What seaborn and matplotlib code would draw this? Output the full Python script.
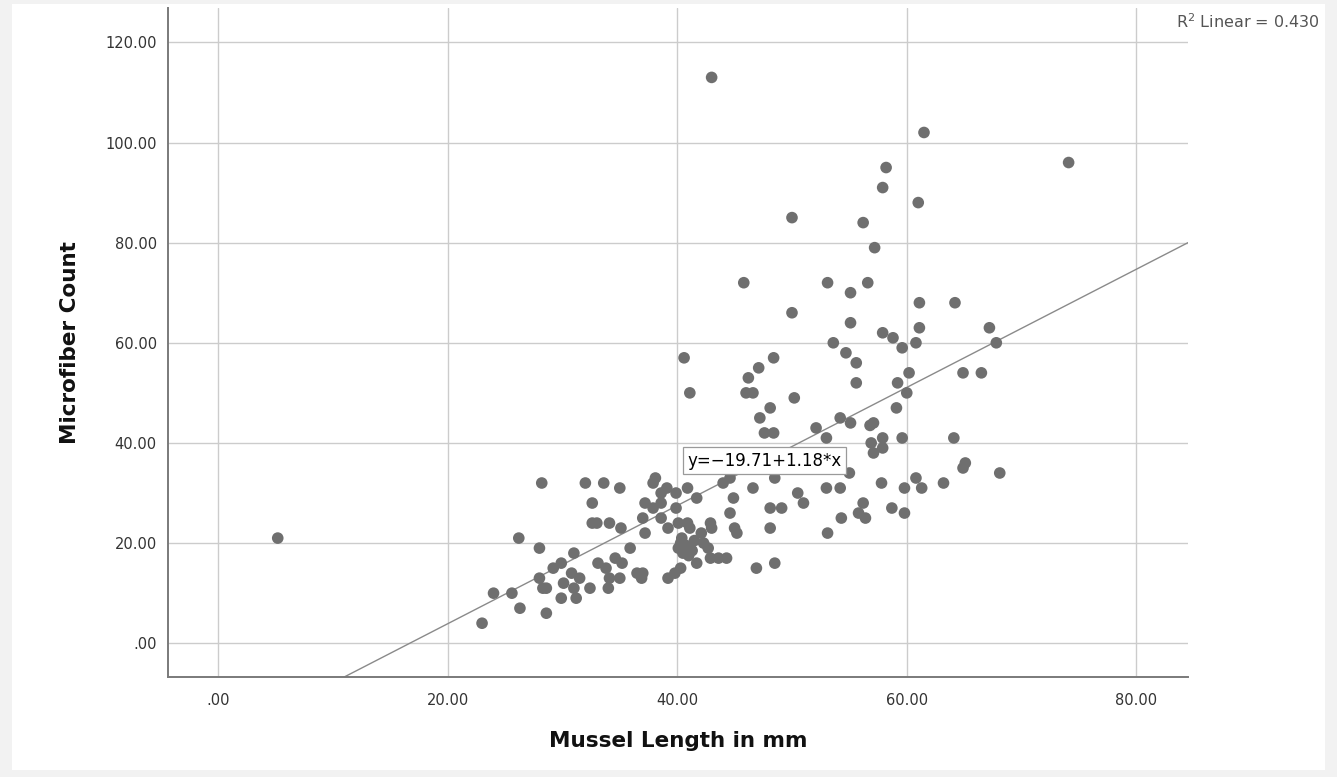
import numpy as np
import pandas as pd
import seaborn as sns
import matplotlib
matplotlib.use("Agg")
import matplotlib.pyplot as plt
from matplotlib.patches import Rectangle

# ---- data ----
mussel_length = [
    5.2, 23.0, 24.0, 25.6, 26.2, 26.3, 28.0, 28.2, 28.0, 28.3,
    28.6, 28.6, 29.2, 29.9, 30.1, 29.9, 30.8, 31.5, 31.0, 31.2,
    31.0, 32.0, 32.6, 32.6, 33.0, 33.6, 33.1, 32.4, 34.1, 33.8,
    34.6, 35.2, 34.1, 35.0, 34.0, 35.0, 35.1, 35.9, 36.5, 37.0,
    36.9, 37.0, 37.2, 37.2, 37.9, 38.1, 37.9, 38.6, 39.1, 38.6,
    39.9, 40.9, 41.7, 39.9, 38.6, 39.2, 40.1, 40.9, 41.1, 42.1,
    42.9, 43.0, 40.4, 40.3, 40.8, 41.3, 41.0, 40.1, 42.3, 42.7,
    41.7, 40.5, 41.5, 42.9, 43.6, 44.3, 40.3, 39.8, 39.2, 44.0,
    44.6, 44.9, 44.6, 45.0, 45.2, 46.6, 46.9, 48.5, 48.1, 49.1,
    48.1, 48.5, 50.5, 51.0, 53.0, 54.2, 55.0, 57.8, 59.8, 60.8,
    61.3, 63.2, 65.1, 64.9, 68.1, 56.2, 55.8, 56.4, 54.3, 58.7,
    59.8, 53.1, 52.1, 53.0, 54.2, 55.1, 56.8, 57.1, 56.9, 57.9,
    57.9, 57.1, 59.6, 64.1, 53.1, 55.1, 56.6, 61.1, 64.2, 55.1,
    57.9, 58.8, 59.6, 61.1, 60.8, 67.2, 67.8, 53.6, 54.7, 55.6,
    55.6, 59.2, 60.2, 60.0, 59.1, 64.9, 66.5, 43.0, 61.5, 58.2,
    57.9, 61.0, 50.0, 56.2, 57.2, 45.8, 50.0, 40.6, 41.1, 46.2,
    47.1, 48.4, 46.0, 46.6, 50.2, 48.1, 47.2, 47.6, 48.4, 74.1,
]
microfiber_count = [
    21, 4, 10, 10, 21, 7, 19, 32, 13, 11,
    11, 6, 15, 16, 12, 9, 14, 13, 11, 9,
    18, 32, 28, 24, 24, 32, 16, 11, 24, 15,
    17, 16, 13, 13, 11, 31, 23, 19, 14, 14,
    13, 25, 22, 28, 27, 33, 32, 30, 31, 28,
    30, 31, 29, 27, 25, 23, 24, 24, 23, 22,
    24, 23, 21, 20, 19.5, 18.5, 17.5, 19, 20, 19,
    16, 18, 20.5, 17, 17, 17, 15, 14, 13, 32,
    33, 29, 26, 23, 22, 31, 15, 16, 27, 27,
    23, 33, 30, 28, 31, 31, 34, 32, 31, 33,
    31, 32, 36, 35, 34, 28, 26, 25, 25, 27,
    26, 22, 43, 41, 45, 44, 43.5, 44, 40, 41,
    39, 38, 41, 41, 72, 70, 72, 68, 68, 64,
    62, 61, 59, 63, 60, 63, 60, 60, 58, 56,
    52, 52, 54, 50, 47, 54, 54, 113, 102, 95,
    91, 88, 85, 84, 79, 72, 66, 57, 50, 53,
    55, 57, 50, 50, 49, 47, 45, 42, 42, 96,
]

intercept = -19.71
slope = 1.18
r_squared = 0.430

x_ticks = [0, 20, 40, 60, 80]
x_tick_labels = [".00", "20.00", "40.00", "60.00", "80.00"]
y_ticks = [0, 20, 40, 60, 80, 100, 120]
y_tick_labels = [".00", "20.00", "40.00", "60.00", "80.00", "100.00", "120.00"]

df = pd.DataFrame({"Mussel Length in mm": mussel_length,
                   "Microfiber Count": microfiber_count})

# ---- styling ----
sns.set_theme(style="white")
plt.rcParams["font.family"] = ["DejaVu Sans"]

fig = plt.figure(figsize=(13.37, 7.77), dpi=100, facecolor="#f2f2f2")
fig.patches.append(Rectangle((12 / 1337, 7 / 777), (1325 - 12) / 1337, (773 - 7) / 777,
                             transform=fig.transFigure, facecolor="white",
                             edgecolor="none", zorder=-10))
ax = fig.add_axes([168 / 1337, 1 - 677.3 / 777, (1188 - 168) / 1337, (677.3 - 8.3) / 777])
ax.set_facecolor("white")

xlim = (-4.36, 84.5)
ylim = (-6.8, 126.8)

sns.scatterplot(data=df, x="Mussel Length in mm", y="Microfiber Count", ax=ax,
                color="#6f6f6f", s=70, edgecolor="none", linewidth=0, zorder=3)

# fit line
xs = np.array(xlim)
ax.plot(xs, intercept + slope * xs, color="#8a8a8a", linewidth=1.0, zorder=2)

lx = 47.6
ax.text(lx, intercept + slope * lx, "y=\u221219.71+1.18*x", ha="center", va="center",
        fontsize=12, color="black", zorder=5,
        bbox=dict(boxstyle="square,pad=0.28", facecolor="white", edgecolor="#9a9a9a", linewidth=0.9))

ax.set_xlim(*xlim)
ax.set_ylim(*ylim)
ax.set_xticks(x_ticks)
ax.set_xticklabels(x_tick_labels)
ax.set_yticks(y_ticks)
ax.set_yticklabels(y_tick_labels)
ax.tick_params(axis="both", length=0, labelsize=10.5, colors="#333333")
ax.tick_params(axis="x", pad=11)
ax.tick_params(axis="y", pad=8)

ax.grid(True, color="#cccccc", linewidth=1.0, zorder=0)
ax.set_axisbelow(True)
for side in ["top", "right"]:
    ax.spines[side].set_visible(False)
for side in ["left", "bottom"]:
    ax.spines[side].set_color("#7a7a7a")
    ax.spines[side].set_linewidth(1.4)

ax.set_xlabel("Mussel Length in mm", fontsize=15.5, fontweight="bold", color="#111111", labelpad=17)
ax.set_ylabel("Microfiber Count", fontsize=15.5, fontweight="bold", color="#111111", labelpad=18)

fig.text(1320 / 1337, 1 - 22 / 777, "R$^2$ Linear = %.3f" % r_squared, ha="right", va="center",
         fontsize=11.5, color="#555555")

fig.savefig("out.png", dpi=100, facecolor=fig.get_facecolor())
